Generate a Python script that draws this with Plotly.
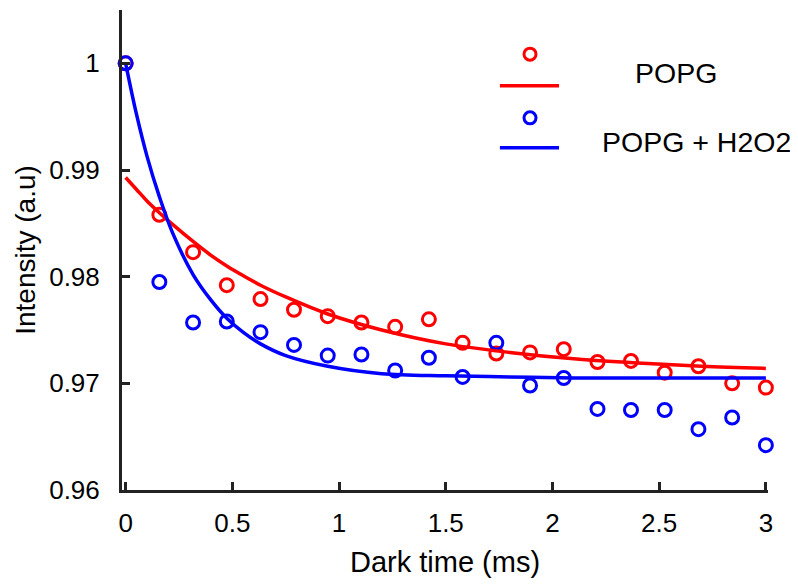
import plotly.graph_objects as go

# dark time points (ms)
dark_time = [0, 0.158, 0.316, 0.474, 0.632, 0.789, 0.947, 1.105, 1.263, 1.421,
             1.579, 1.737, 1.895, 2.053, 2.211, 2.368, 2.526, 2.684, 2.842, 3.0]

popg = [1.0, 0.9858, 0.9823, 0.9792, 0.9779, 0.9769, 0.9763, 0.9757, 0.9753, 0.9760,
        0.9738, 0.9728, 0.9729, 0.9732, 0.9720, 0.9721, 0.9710, 0.9716, 0.9700, 0.9696]
popg_h2o2 = [1.0, 0.9795, 0.9757, 0.9758, 0.9748, 0.9736, 0.9726, 0.9727, 0.9712, 0.9724,
             0.9706, 0.9738, 0.9698, 0.9705, 0.9676, 0.9675, 0.9675, 0.9657, 0.9668, 0.9642]

# fitted curves
fit_time = [0, 0.05, 0.1, 0.158, 0.22, 0.316, 0.4, 0.474, 0.55, 0.632,
            0.75, 0.947, 1.2, 1.5, 1.8, 2.1, 2.4, 2.7, 3.0]
fit_popg = [0.9893, 0.9882, 0.9871, 0.9860, 0.9849, 0.9833, 0.9820, 0.9810, 0.9801, 0.9792,
            0.9781, 0.9765, 0.9750, 0.9737, 0.9729, 0.9723, 0.9719, 0.9716, 0.9714]
fit_popg_h2o2 = [1.0, 0.9953, 0.9913, 0.9875, 0.9841, 0.9802, 0.9778, 0.9761, 0.9748, 0.9737,
                 0.9726, 0.9716, 0.9709, 0.9707, 0.9706, 0.9705, 0.9705, 0.9705, 0.9705]

x_ticks = [0, 0.5, 1, 1.5, 2, 2.5, 3]
x_labels = ['0', '0.5', '1', '1.5', '2', '2.5', '3']
y_ticks = [0.96, 0.97, 0.98, 0.99, 1.0]
y_labels = ['0.96', '0.97', '0.98', '0.99', '1']

series_names = ['POPG', 'POPG + H2O2']

RED = 'rgb(255,0,0)'
BLUE = 'rgb(0,0,255)'
AXIS = '#222222'
FONT = 'Liberation Sans, Arial, sans-serif'

fig = go.Figure()
for t, y, c in [(dark_time, popg, RED), (dark_time, popg_h2o2, BLUE)]:
    fig.add_trace(go.Scatter(x=t, y=y, mode='markers', cliponaxis=False,
                             marker=dict(symbol='circle-open', size=13, color=c,
                                         line=dict(width=3, color=c)),
                             showlegend=False))
for y, c in [(fit_popg, RED), (fit_popg_h2o2, BLUE)]:
    fig.add_trace(go.Scatter(x=fit_time, y=y, mode='lines', line_shape='spline',
                             cliponaxis=False, line=dict(color=c, width=3.5),
                             showlegend=False))

# hand-made legend: circle above a short line, label on the right
shapes = []
annotations = []
for i, c in enumerate([RED, BLUE]):
    cy = 0.908 - i * 0.1327
    ly = 0.842 - i * 0.1292
    shapes.append(dict(type='circle', xref='paper', yref='paper',
                       xsizemode='pixel', ysizemode='pixel',
                       xanchor=0.6316, yanchor=cy, x0=-6, x1=6, y0=-6, y1=6,
                       line=dict(color=c, width=3)))
    shapes.append(dict(type='line', xref='paper', yref='paper',
                       x0=0.585, x1=0.6765, y0=ly, y1=ly,
                       line=dict(color=c, width=3.5)))
annotations.append(dict(text=series_names[0], xref='paper', yref='paper', x=0.8576, y=0.8688,
                        showarrow=False, xanchor='center', yanchor='middle',
                        font=dict(size=28.5, color='black', family=FONT)))
annotations.append(dict(text=series_names[1], xref='paper', yref='paper', x=0.890, y=0.726,
                        showarrow=False, xanchor='center', yanchor='middle',
                        font=dict(size=28.5, color='black', family=FONT)))

# the page adds an 8px body margin, so the figure is a bit smaller than the window
fig.update_layout(
    width=782, height=570,
    margin=dict(l=114, r=22, t=2, b=88),
    paper_bgcolor='white', plot_bgcolor='white',
    font=dict(family=FONT, size=26, color='black'),
    shapes=shapes, annotations=annotations,
    xaxis=dict(range=[-0.017, 3.01], tickvals=x_ticks, ticktext=x_labels,
               showline=True, linewidth=3, linecolor=AXIS,
               ticks='inside', ticklen=8, tickwidth=3, tickcolor=AXIS,
               showgrid=False, zeroline=False, ticklabelstandoff=8,
               automargin=False,
               title=dict(text='Dark time (ms)', font=dict(size=29), standoff=26)),
    yaxis=dict(range=[0.96, 1.005], tickvals=y_ticks, ticktext=y_labels,
               showline=True, linewidth=3, linecolor=AXIS,
               ticks='inside', ticklen=8, tickwidth=3, tickcolor=AXIS,
               showgrid=False, zeroline=False, ticklabelstandoff=14,
               automargin=False,
               title=dict(text='Intensity (a.u)', font=dict(size=28), standoff=6)),
)

fig.write_html("out.html")
